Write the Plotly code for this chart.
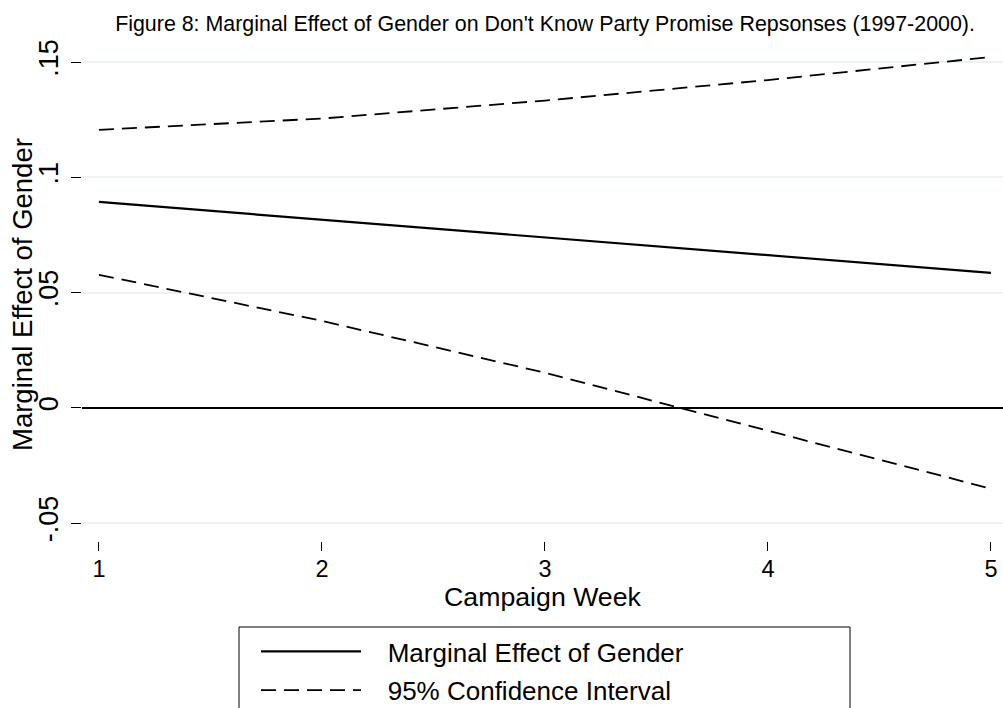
import plotly.graph_objects as go

weeks = [1, 2, 3, 4, 5]
marginal_effect = [0.0893, 0.0816, 0.0739, 0.0662, 0.0585]
ci_upper = [0.1206, 0.1255, 0.1333, 0.1422, 0.1522]
ci_lower = [0.0577, 0.0377, 0.0152, -0.0098, -0.0351]

y_tickvals = [-0.05, 0, 0.05, 0.1, 0.15]
y_ticktext = ["-.05", "0", ".05", ".1", ".15"]
x_tickvals = [1, 2, 3, 4, 5]

title_text = "Figure 8: Marginal Effect of Gender on Don't Know Party Promise Repsonses (1997-2000)."
x_title = "Campaign Week"
y_title = "Marginal Effect of Gender"
legend_names = ["Marginal Effect of Gender", "95% Confidence Interval"]
FONT = "Liberation Sans, Arial, Helvetica, sans-serif"
PAD = "\u00a0" * 3

fig = go.Figure()
fig.add_trace(go.Scatter(x=weeks, y=marginal_effect, mode="lines",
                         name=PAD + legend_names[0], legendgroup="me",
                         line=dict(color="black", width=2.2)))
fig.add_trace(go.Scatter(x=weeks, y=ci_upper, mode="lines",
                         name=PAD + legend_names[1], legendgroup="ci",
                         line=dict(color="black", width=1.8, dash="15px,8px")))
fig.add_trace(go.Scatter(x=weeks, y=ci_lower, mode="lines",
                         name=PAD + legend_names[1], legendgroup="ci", showlegend=False,
                         line=dict(color="black", width=1.8, dash="15px,8px")))

fig.update_layout(
    width=1003, height=708,
    paper_bgcolor="white", plot_bgcolor="white",
    margin=dict(l=82, r=0, t=45, b=167, autoexpand=False),
    font=dict(family=FONT, color="black", size=24),
    title=dict(text=title_text, x=0.5434, xanchor="center",
               y=1 - 16 / 708, yanchor="top",
               font=dict(size=21.4, family=FONT, color="black")),
    showlegend=True,
    legend=dict(x=(256 - 82) / 921, y=(541 - 628) / 496, xanchor="left", yanchor="top",
                bgcolor="rgba(0,0,0,0)", borderwidth=0,
                itemwidth=100, tracegroupgap=2,
                font=dict(size=26, family=FONT, color="black")),
    xaxis=dict(range=[0.924, 5.054], tickvals=x_tickvals, ticks="outside",
               ticklen=9, tickcolor="black", tickwidth=1, showgrid=False,
               zeroline=False, showline=False, automargin=False,
               ticklabelstandoff=-2,
               tickfont=dict(size=23.5),
               title=dict(text=x_title, font=dict(size=26.7), standoff=0)),
    yaxis=dict(range=[-0.0578, 0.1574], tickvals=y_tickvals, ticktext=y_ticktext,
               tickangle=-90, ticks="outside", ticklen=10, tickcolor="black",
               tickwidth=1, showgrid=True, gridcolor="#eaf2f3", gridwidth=2,
               zeroline=True, zerolinecolor="black", zerolinewidth=2,
               showline=False, automargin=False, ticklabelstandoff=2,
               tickfont=dict(size=27)),
)

fig.add_annotation(text=y_title, textangle=-90, xref="paper", yref="paper",
                   x=(22 - 82) / 921, y=(541 - 295) / 496,
                   xanchor="center", yanchor="middle", showarrow=False,
                   font=dict(size=27.5, family=FONT, color="black"))

fig.add_shape(type="rect", xref="paper", yref="paper",
              x0=(239 - 82) / 921, x1=(850 - 82) / 921,
              y0=(541 - 720) / 496, y1=(541 - 627) / 496,
              line=dict(color="black", width=1), fillcolor="rgba(0,0,0,0)")

fig.write_html("out.html", config={"displayModeBar": False},
               post_script="document.body.style.margin='0';")
